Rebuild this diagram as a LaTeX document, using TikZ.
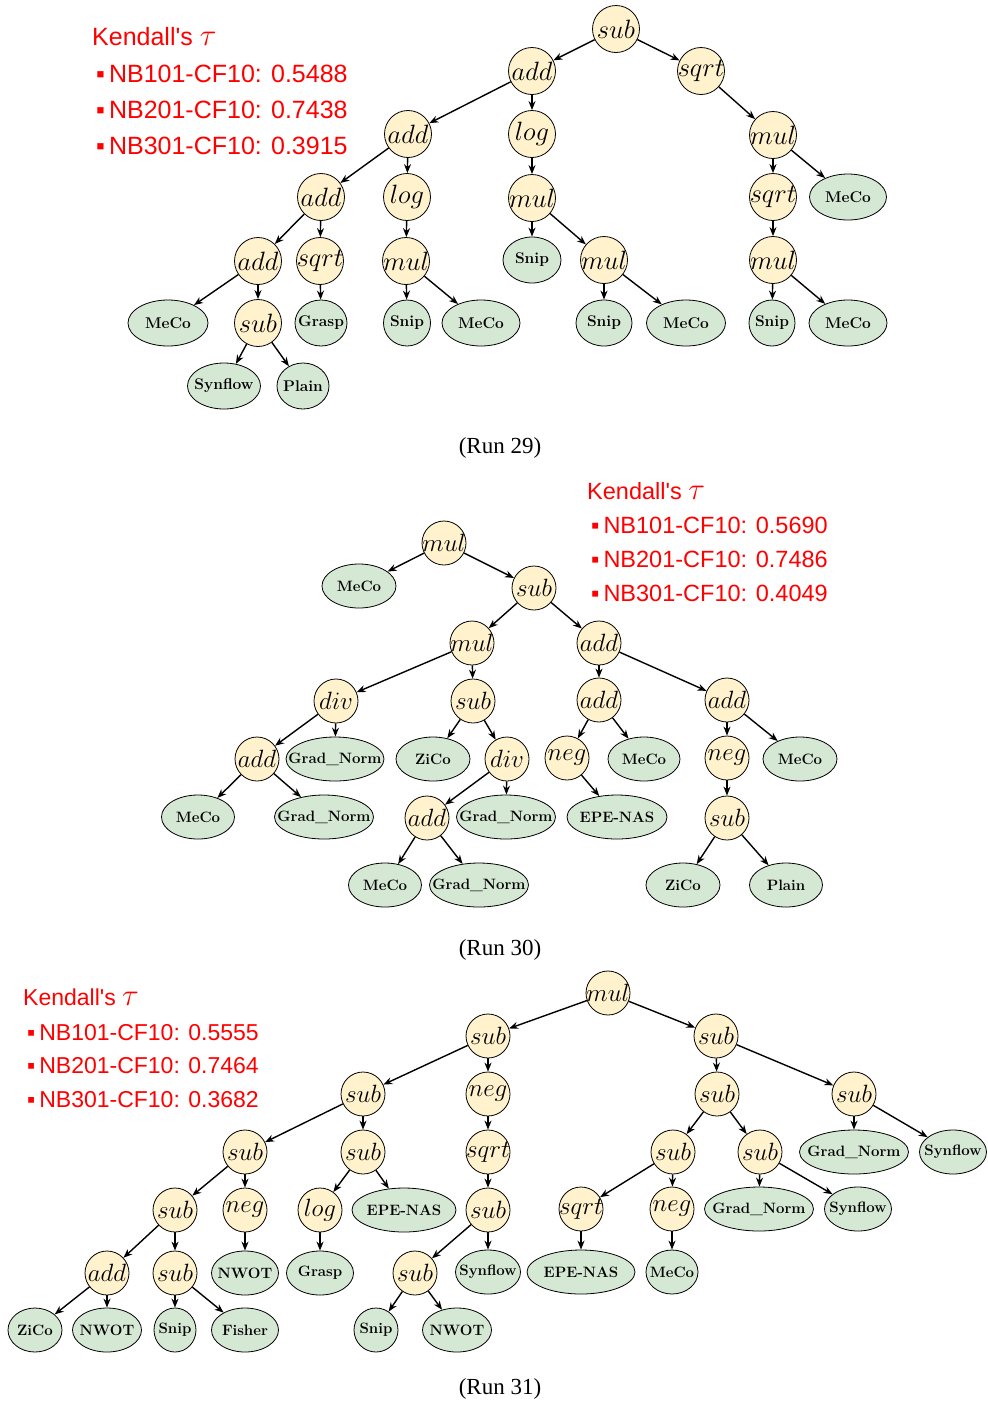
\RequirePackage{fix-cm}
\documentclass[tikz,border=0pt]{standalone}
\usepackage{fontspec}
\usepackage{xcolor}
\usetikzlibrary{arrows.meta, shapes.geometric}
\newfontfamily\kendallfont{Liberation Sans}[Ligatures=TeXOff]
\newfontfamily\runfont{Liberation Serif}
\definecolor{OpYellow}{HTML}{FFF2CC}
\definecolor{LeafGreen}{HTML}{D5E8D4}
\definecolor{TauRed}{HTML}{FF0000}
\newcommand{\bigtau}{{\fontsize{31}{31}\selectfont$\tau$}}

\begin{document}
\begin{tikzpicture}[
            x=1pt, y=-1pt,
            operator/.style = {circle, draw, line width=0.8pt, fill=OpYellow, minimum size=44pt, inner sep=-9pt, font=\fontsize{25}{25}\selectfont},
            leaf/.style = {ellipse, draw, line width=0.8pt, fill=LeafGreen, minimum width=#1, minimum height=44pt, inner xsep=-25pt, inner ysep=0pt, font=\fontsize{15}{15}\selectfont\bfseries},
            leaf/.default = 74,
            link/.style = {draw, -{Stealth[length=9pt, width=7pt]}, line width=1.4pt},
            tau/.style = {text=TauRed, anchor=base west, inner sep=0pt, font=\kendallfont\fontsize{#1}{#1}\selectfont},
            run/.style = {anchor=base, inner sep=0pt, font=\runfont\fontsize{23}{23}\selectfont}
        ]
            \useasboundingbox (0,0) rectangle (988,1401);

            % Run 29
            \begin{scope}[operator/.append style={minimum size=47pt, font=\fontsize{26.5}{26.5}\selectfont},
                          leaf/.append style={minimum height=46pt, font=\fontsize{15.5}{15.5}\selectfont\bfseries}]
            \node [tau=25] (atau) at (92,45) {Kendall's \bigtau};
            \node [tau=25] (atau1) at (96,82) {▪\hspace{4pt}NB101-CF10: 0.5488};
            \node [tau=25] (atau2) at (96,118) {▪\hspace{4pt}NB201-CF10: 0.7438};
            \node [tau=25] (atau3) at (96,154) {▪\hspace{4pt}NB301-CF10: 0.3915};

            \node [operator] (asub) at (616,29) {$sub$};
            \node [operator] (aadd1) at (532,71) {$add$};
            \node [operator] (asqrt1) at (701,71) {$sqrt$};
            \node [operator] (aadd2) at (408,134) {$add$};
            \node [operator] (alog1) at (532,134) {$log$};
            \node [operator] (amul1) at (773,135) {$mul$};
            \node [operator] (aadd3) at (321,197) {$add$};
            \node [operator] (alog2) at (407,197) {$log$};
            \node [operator] (amul2) at (532,198) {$mul$};
            \node [operator] (asqrt2) at (773,197) {$sqrt$};
            \node [leaf=77] (ameco1) at (848,197) {MeCo};
            \node [operator] (aadd4) at (258,261) {$add$};
            \node [operator] (asqrt3) at (320,261) {$sqrt$};
            \node [operator] (amul3) at (406,261) {$mul$};
            \node [leaf=58] (asnip1) at (532,260) {Snip};
            \node [operator] (amul4) at (604,260) {$mul$};
            \node [operator] (amul5) at (773,260) {$mul$};
            \node [leaf=80] (ameco2) at (168,323) {MeCo};
            \node [operator] (asub2) at (258,323) {$sub$};
            \node [leaf=52] (agrasp) at (321,323) {Grasp};
            \node [leaf=47] (asnip2) at (407,323) {Snip};
            \node [leaf=78] (ameco3) at (481,323) {MeCo};
            \node [leaf=56] (asnip3) at (604,323) {Snip};
            \node [leaf=79] (ameco4) at (686,323) {MeCo};
            \node [leaf=46] (asnip4) at (772,323) {Snip};
            \node [leaf=78] (ameco5) at (848,323) {MeCo};
            \node [leaf=73] (asynflow) at (224,386) {Synflow};
            \node [leaf=52] (aplain) at (303,386) {Plain};
            \end{scope}

            \draw [link] (asub) -- (aadd1);
            \draw [link] (asub) -- (asqrt1);
            \draw [link] (aadd1) -- (aadd2);
            \draw [link] (aadd1) -- (alog1);
            \draw [link] (asqrt1) -- (amul1);
            \draw [link] (aadd2) -- (aadd3);
            \draw [link] (aadd2) -- (alog2);
            \draw [link] (alog1) -- (amul2);
            \draw [link] (amul1) -- (asqrt2);
            \draw [link] (amul1) -- (ameco1);
            \draw [link] (aadd3) -- (aadd4);
            \draw [link] (aadd3) -- (asqrt3);
            \draw [link] (alog2) -- (amul3);
            \draw [link] (amul2) -- (asnip1);
            \draw [link] (amul2) -- (amul4);
            \draw [link] (asqrt2) -- (amul5);
            \draw [link] (aadd4) -- (ameco2);
            \draw [link] (aadd4) -- (asub2);
            \draw [link] (asqrt3) -- (agrasp);
            \draw [link] (amul3) -- (asnip2);
            \draw [link] (amul3) -- (ameco3);
            \draw [link] (amul4) -- (asnip3);
            \draw [link] (amul4) -- (ameco4);
            \draw [link] (amul5) -- (asnip4);
            \draw [link] (amul5) -- (ameco5);
            \draw [link] (asub2) -- (asynflow);
            \draw [link] (asub2) -- (aplain);

            \node [run] (arun) at (500,453) {(Run 29)};

            % Run 30
            \node [tau=23.5] (btau) at (587,499) {Kendall's \bigtau};
            \node [tau=23.5] (btau1) at (591,533) {▪\hspace{4pt}NB101-CF10: 0.5690};
            \node [tau=23.5] (btau2) at (591,567) {▪\hspace{4pt}NB201-CF10: 0.7486};
            \node [tau=23.5] (btau3) at (591,601) {▪\hspace{4pt}NB301-CF10: 0.4049};

            \node [operator] (bmul1) at (444,543) {$mul$};
            \node [leaf] (bmeco1) at (359,586) {MeCo};
            \node [operator] (bsub1) at (534,588) {$sub$};
            \node [operator] (bmul2) at (472,643) {$mul$};
            \node [operator] (badd1) at (599,643) {$add$};
            \node [operator] (bdiv1) at (336,701) {$div$};
            \node [operator] (bsub2) at (473,701) {$sub$};
            \node [operator] (badd2) at (599,700) {$add$};
            \node [operator] (badd3) at (727,700) {$add$};
            \node [operator] (badd4) at (257,759) {$add$};
            \node [leaf=98] (bgrad1) at (335,759) {Grad\_Norm};
            \node [leaf] (bzico1) at (433,759) {ZiCo};
            \node [operator] (bdiv2) at (507,759) {$div$};
            \node [operator] (bneg1) at (567,758) {$neg$};
            \node [leaf=72] (bmeco2) at (644,759) {MeCo};
            \node [operator] (bneg2) at (727,758) {$neg$};
            \node [leaf] (bmeco3) at (800,759) {MeCo};
            \node [leaf=73] (bmeco4) at (198,817) {MeCo};
            \node [leaf=99] (bgrad2) at (324,817) {Grad\_Norm};
            \node [operator] (badd5) at (427,818) {$add$};
            \node [leaf=99] (bgrad3) at (506,817) {Grad\_Norm};
            \node [leaf=100] (bepe) at (617,817) {EPE-NAS};
            \node [operator] (bsub3) at (727,818) {$sub$};
            \node [leaf=73] (bmeco5) at (385,885) {MeCo};
            \node [leaf=99] (bgrad4) at (479,885) {Grad\_Norm};
            \node [leaf] (bzico2) at (683,885) {ZiCo};
            \node [leaf=73] (bplain) at (786,885) {Plain};

            \draw [link] (bmul1) -- (bmeco1);
            \draw [link] (bmul1) -- (bsub1);
            \draw [link] (bsub1) -- (bmul2);
            \draw [link] (bsub1) -- (badd1);
            \draw [link] (bmul2) -- (bdiv1);
            \draw [link] (bmul2) -- (bsub2);
            \draw [link] (badd1) -- (badd2);
            \draw [link] (badd1) -- (badd3);
            \draw [link] (bdiv1) -- (badd4);
            \draw [link] (bdiv1) -- (bgrad1);
            \draw [link] (bsub2) -- (bzico1);
            \draw [link] (bsub2) -- (bdiv2);
            \draw [link] (badd2) -- (bneg1);
            \draw [link] (badd2) -- (bmeco2);
            \draw [link] (badd3) -- (bneg2);
            \draw [link] (badd3) -- (bmeco3);
            \draw [link] (badd4) -- (bmeco4);
            \draw [link] (badd4) -- (bgrad2);
            \draw [link] (bdiv2) -- (badd5);
            \draw [link] (bdiv2) -- (bgrad3);
            \draw [link] (bneg1) -- (bepe);
            \draw [link] (bneg2) -- (bsub3);
            \draw [link] (badd5) -- (bmeco5);
            \draw [link] (badd5) -- (bgrad4);
            \draw [link] (bsub3) -- (bzico2);
            \draw [link] (bsub3) -- (bplain);

            \node [run] (brun) at (500,955) {(Run 30)};

            % Run 31
            \node [tau=23] (ctau) at (23,1005) {Kendall's \bigtau};
            \node [tau=23] (ctau1) at (27,1040) {▪\hspace{4pt}NB101-CF10: 0.5555};
            \node [tau=23] (ctau2) at (27,1073) {▪\hspace{4pt}NB201-CF10: 0.7464};
            \node [tau=23] (ctau3) at (27,1107) {▪\hspace{4pt}NB301-CF10: 0.3682};

            \node [operator] (cmul) at (608,993) {$mul$};
            \node [operator] (csub1) at (488,1036) {$sub$};
            \node [operator] (csub2) at (716,1036) {$sub$};
            \node [operator] (csub3) at (363,1094) {$sub$};
            \node [operator] (cneg1) at (488,1094) {$neg$};
            \node [operator] (csub4) at (717,1094) {$sub$};
            \node [operator] (csub5) at (854,1094) {$sub$};
            \node [operator] (csub6) at (245,1152) {$sub$};
            \node [operator] (csub7) at (363,1152) {$sub$};
            \node [operator] (csqrt1) at (488,1152) {$sqrt$};
            \node [operator] (csub8) at (673,1152) {$sub$};
            \node [operator] (csub9) at (760,1152) {$sub$};
            \node [leaf=109] (cgrad1) at (854,1152) {Grad\_Norm};
            \node [leaf=67] (csynflow1) at (953,1152) {Synflow};
            \node [operator] (csub10) at (175,1210) {$sub$};
            \node [operator] (cneg2) at (245,1210) {$neg$};
            \node [operator] (clog) at (320,1210) {$log$};
            \node [leaf=104] (cepe1) at (404,1210) {EPE-NAS};
            \node [operator] (csub11) at (488,1210) {$sub$};
            \node [operator] (csqrt2) at (581,1209) {$sqrt$};
            \node [operator] (cneg3) at (672,1209) {$neg$};
            \node [leaf=109] (cgrad2) at (759,1209) {Grad\_Norm};
            \node [leaf=67] (csynflow2) at (858,1209) {Synflow};
            \node [operator] (cadd) at (107,1273) {$add$};
            \node [operator] (csub12) at (175,1273) {$sub$};
            \node [leaf=67] (cnwot1) at (245,1273) {NWOT};
            \node [leaf=67] (cgrasp) at (320,1273) {Grasp};
            \node [operator] (csub13) at (415,1273) {$sub$};
            \node [leaf=65] (csynflow3) at (488,1272) {Synflow};
            \node [leaf=108] (cepe2) at (581,1272) {EPE-NAS};
            \node [leaf=52] (cmeco) at (672,1272) {MeCo};
            \node [leaf=54] (czico) at (35,1330) {ZiCo};
            \node [leaf=69] (cnwot2) at (107,1330) {NWOT};
            \node [leaf=42] (csnip1) at (175,1330) {Snip};
            \node [leaf=67] (cfisher) at (245,1330) {Fisher};
            \node [leaf=44] (csnip2) at (376,1330) {Snip};
            \node [leaf=69] (cnwot3) at (457,1330) {NWOT};

            \draw [link] (cmul) -- (csub1);
            \draw [link] (cmul) -- (csub2);
            \draw [link] (csub1) -- (csub3);
            \draw [link] (csub1) -- (cneg1);
            \draw [link] (csub2) -- (csub4);
            \draw [link] (csub2) -- (csub5);
            \draw [link] (csub3) -- (csub6);
            \draw [link] (csub3) -- (csub7);
            \draw [link] (cneg1) -- (csqrt1);
            \draw [link] (csub4) -- (csub8);
            \draw [link] (csub4) -- (csub9);
            \draw [link] (csub5) -- (cgrad1);
            \draw [link] (csub5) -- (csynflow1);
            \draw [link] (csub6) -- (csub10);
            \draw [link] (csub6) -- (cneg2);
            \draw [link] (csub7) -- (clog);
            \draw [link] (csub7) -- (cepe1);
            \draw [link] (csqrt1) -- (csub11);
            \draw [link] (csub8) -- (csqrt2);
            \draw [link] (csub8) -- (cneg3);
            \draw [link] (csub9) -- (cgrad2);
            \draw [link] (csub9) -- (csynflow2);
            \draw [link] (csub10) -- (cadd);
            \draw [link] (csub10) -- (csub12);
            \draw [link] (cneg2) -- (cnwot1);
            \draw [link] (clog) -- (cgrasp);
            \draw [link] (csub11) -- (csub13);
            \draw [link] (csub11) -- (csynflow3);
            \draw [link] (csqrt2) -- (cepe2);
            \draw [link] (cneg3) -- (cmeco);
            \draw [link] (cadd) -- (czico);
            \draw [link] (cadd) -- (cnwot2);
            \draw [link] (csub12) -- (csnip1);
            \draw [link] (csub12) -- (cfisher);
            \draw [link] (csub13) -- (csnip2);
            \draw [link] (csub13) -- (cnwot3);

            \node [run] (crun) at (500,1394) {(Run 31)};
        \end{tikzpicture}
\end{document}
